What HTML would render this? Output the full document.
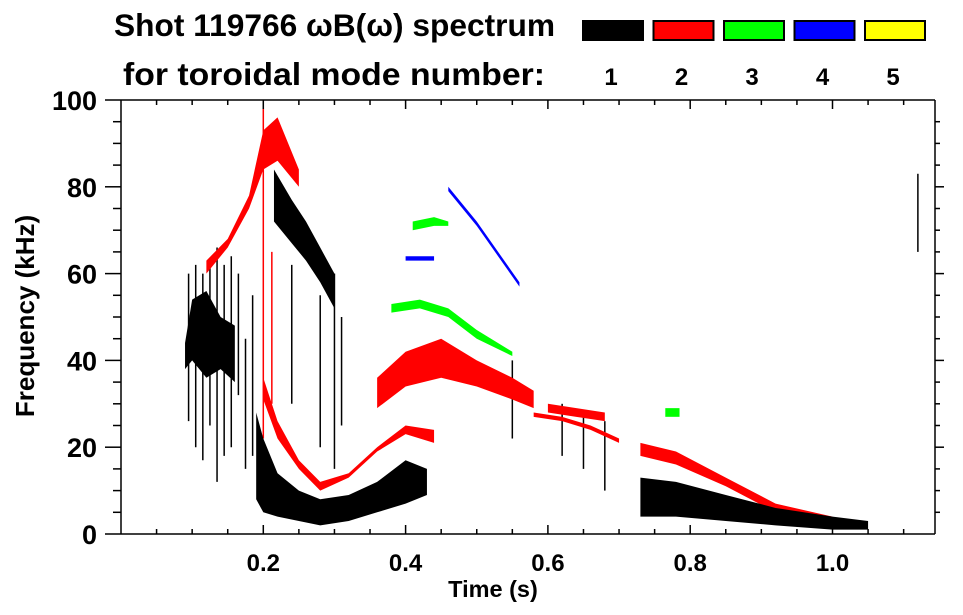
<!DOCTYPE html>
<html><head><meta charset="utf-8"><style>
body{margin:0;background:#fff;}
svg{display:block;font-family:"Liberation Sans",sans-serif;font-weight:bold;}
</style></head><body>
<svg id="chart" width="963" height="615" viewBox="0 0 963 615">
<text x="114" y="36" font-size="31.5" textLength="441" lengthAdjust="spacingAndGlyphs">Shot 119766 ωB(ω) spectrum</text>
<text x="123" y="85" font-size="31.5" textLength="422" lengthAdjust="spacingAndGlyphs">for toroidal mode number:</text>
<g id="legend"></g>
<g id="marks"></g>
<g id="axes"></g>
<text x="493" y="597" font-size="23.5" text-anchor="middle">Time (s)</text>
<text transform="translate(34,316) rotate(-90)" font-size="26" text-anchor="middle">Frequency (kHz)</text>
</svg>
<script>
const modeLabels=["1","2","3","4","5"];
const modeColors=["#000000","#ff0000","#00ff00","#0000ff","#ffff00"];
const xTicks=[0.2,0.4,0.6,0.8,1.0];
const xTickLabels=["0.2","0.4","0.6","0.8","1.0"];
const yTicks=[0,20,40,60,80,100];
const bandMode=[0,0,0,1,1,1,1,1,2,2,2,3,3,0,1];
const bandT=[
[0.09,0.1,0.12,0.14,0.16],
[0.19,0.2,0.22,0.25,0.28,0.32,0.36,0.4,0.43],
[0.215,0.24,0.26,0.28,0.3],
[0.12,0.15,0.18,0.2,0.22,0.25],
[0.2,0.22,0.25,0.28,0.32,0.36,0.4,0.44],
[0.36,0.4,0.45,0.5,0.55,0.58],
[0.73,0.78,0.85,0.92,1.0],
[0.58,0.62,0.66,0.7],
[0.41,0.44,0.46],
[0.38,0.42,0.46,0.5,0.55],
[0.765,0.785],
[0.46,0.5,0.53,0.56],
[0.4,0.42,0.44],
[0.73,0.78,0.85,0.92,1.0,1.05],
[0.6,0.64,0.68]
];
const bandLo=[
[38,40,36,38,35],
[8,5,4,3,2,3,5,7,9],
[72,67,63,58,52],
[60,66,75,84,86,80],
[31,22,15,10,13,19,23,21],
[29,34,36,34,31,29],
[18,16,11,5,3],
[27,26,24,21],
[70,71,71],
[51,52,50,45,41],
[27,27],
[79,71,64,57],
[63,63,63],
[4,4,3,2,1,1],
[28,27,26]
];
const bandHi=[
[44,54,56,50,48],
[28,22,14,10,8,9,12,17,15],
[84,77,72,66,60],
[63,68,78,93,96,84],
[36,26,17,12,14,20,25,24],
[36,42,45,40,36,33],
[21,19,13,7,4],
[28,27,25,22],
[72,73,72],
[53,54,52,47,42],
[29,29],
[80,72,65,58],
[64,64,64],
[13,12,9,6,4,3],
[30,29,28]
];
const streakMode=[0,0,0,0,0,0,0,0,0,0,0,0,0,0,1,1,0,0,0,0,0];
const streakT=[0.095,0.105,0.115,0.125,0.135,0.145,0.155,0.165,0.175,0.185,0.24,0.28,0.3,0.31,0.2,0.212,0.62,0.65,0.68,1.12,0.55];
const streakF0=[26,20,17,25,12,18,20,32,15,18,30,20,15,25,22,30,18,15,10,65,22];
const streakF1=[60,62,60,63,66,62,64,60,45,55,62,55,60,50,98,65,30,28,26,83,40];

const L=121,R=935,T=100,B=534,TMAX=(R-L)/711.5;
const X=t=>L+t*711.5, Y=f=>B-f*(B-T)/100;
const NS="http://www.w3.org/2000/svg";
function mk(tag,parent){const e=document.createElementNS(NS,tag);parent.appendChild(e);return e;}
const lg=document.getElementById('legend');
for(let i=0;i<modeLabels.length;i++){
 const r=mk('rect',lg);
 
 
 r.setAttribute('x',583+i*70.5);r.setAttribute('y',21);r.setAttribute('width',60);r.setAttribute('height',19);
 r.setAttribute('fill',modeColors[i]);r.setAttribute('stroke','#000');r.setAttribute('stroke-width',2);
 const t=mk('text',lg);
 
 
 t.setAttribute('x',611+i*70.5);t.setAttribute('y',85);t.setAttribute('font-size',24);t.setAttribute('text-anchor','middle');
 t.textContent=modeLabels[i];
}
const mg=document.getElementById('marks');
for(let i=0;i<streakT.length;i++){
 const l=mk('line',mg);
 
 
 l.setAttribute('x1',X(streakT[i]));l.setAttribute('x2',X(streakT[i]));
 l.setAttribute('y1',Y(streakF0[i]));l.setAttribute('y2',Y(streakF1[i]));
 l.setAttribute('stroke',modeColors[streakMode[i]]);l.setAttribute('stroke-width',1.5);
}
for(let i=0;i<bandT.length;i++){
 const ts=bandT[i],lo=bandLo[i],hi=bandHi[i];let pts=[];
 for(let j=0;j<ts.length;j++)pts.push(X(ts[j])+','+Y(hi[j]));
 for(let j=ts.length-1;j>=0;j--)pts.push(X(ts[j])+','+Y(lo[j]));
 const p=mk('polygon',mg);
 
 
 p.setAttribute('points',pts.join(' '));p.setAttribute('fill',modeColors[bandMode[i]]);
}
const ax=document.getElementById('axes');
function ln(x1,y1,x2,y2,name){const l=mk('line',ax);
 
 
 l.setAttribute('x1',x1);l.setAttribute('y1',y1);l.setAttribute('x2',x2);l.setAttribute('y2',y2);l.setAttribute('stroke','#000');l.setAttribute('stroke-width',1.5);}
ln(L,T,R,T,'top-axis');ln(L,B,R,B,'x-axis');ln(L,T,L,B,'y-axis');ln(R,T,R,B,'right-axis');
ln(105,T,L,T,'y-tick-ext');ln(105,B,L,B,'y-tick-ext');
for(let t=0.05;t<TMAX;t+=0.05){const maj=Math.abs(t*5-Math.round(t*5))<1e-6;
 ln(X(t),B,X(t),B-(maj?9:5),'x-tick');ln(X(t),T,X(t),T+(maj?9:5),'x-tick-top');}
for(let f=5;f<100;f+=5){const maj=f%20===0;ln(maj?105:113,Y(f),L,Y(f),'y-tick');ln(R,Y(f),R+(maj?9:5),Y(f),'y-tick-right');}
for(let i=0;i<xTicks.length;i++){const t=mk('text',ax);
 
 
 t.setAttribute('x',X(xTicks[i]));t.setAttribute('y',571);t.setAttribute('font-size',24);t.setAttribute('text-anchor','middle');t.textContent=xTickLabels[i];}
for(let i=0;i<yTicks.length;i++){const t=mk('text',ax);
 
 
 t.setAttribute('x',97);t.setAttribute('y',Y(yTicks[i])+10);t.setAttribute('font-size',27);t.setAttribute('text-anchor','end');t.textContent=yTicks[i];}
</script>
</body></html>
